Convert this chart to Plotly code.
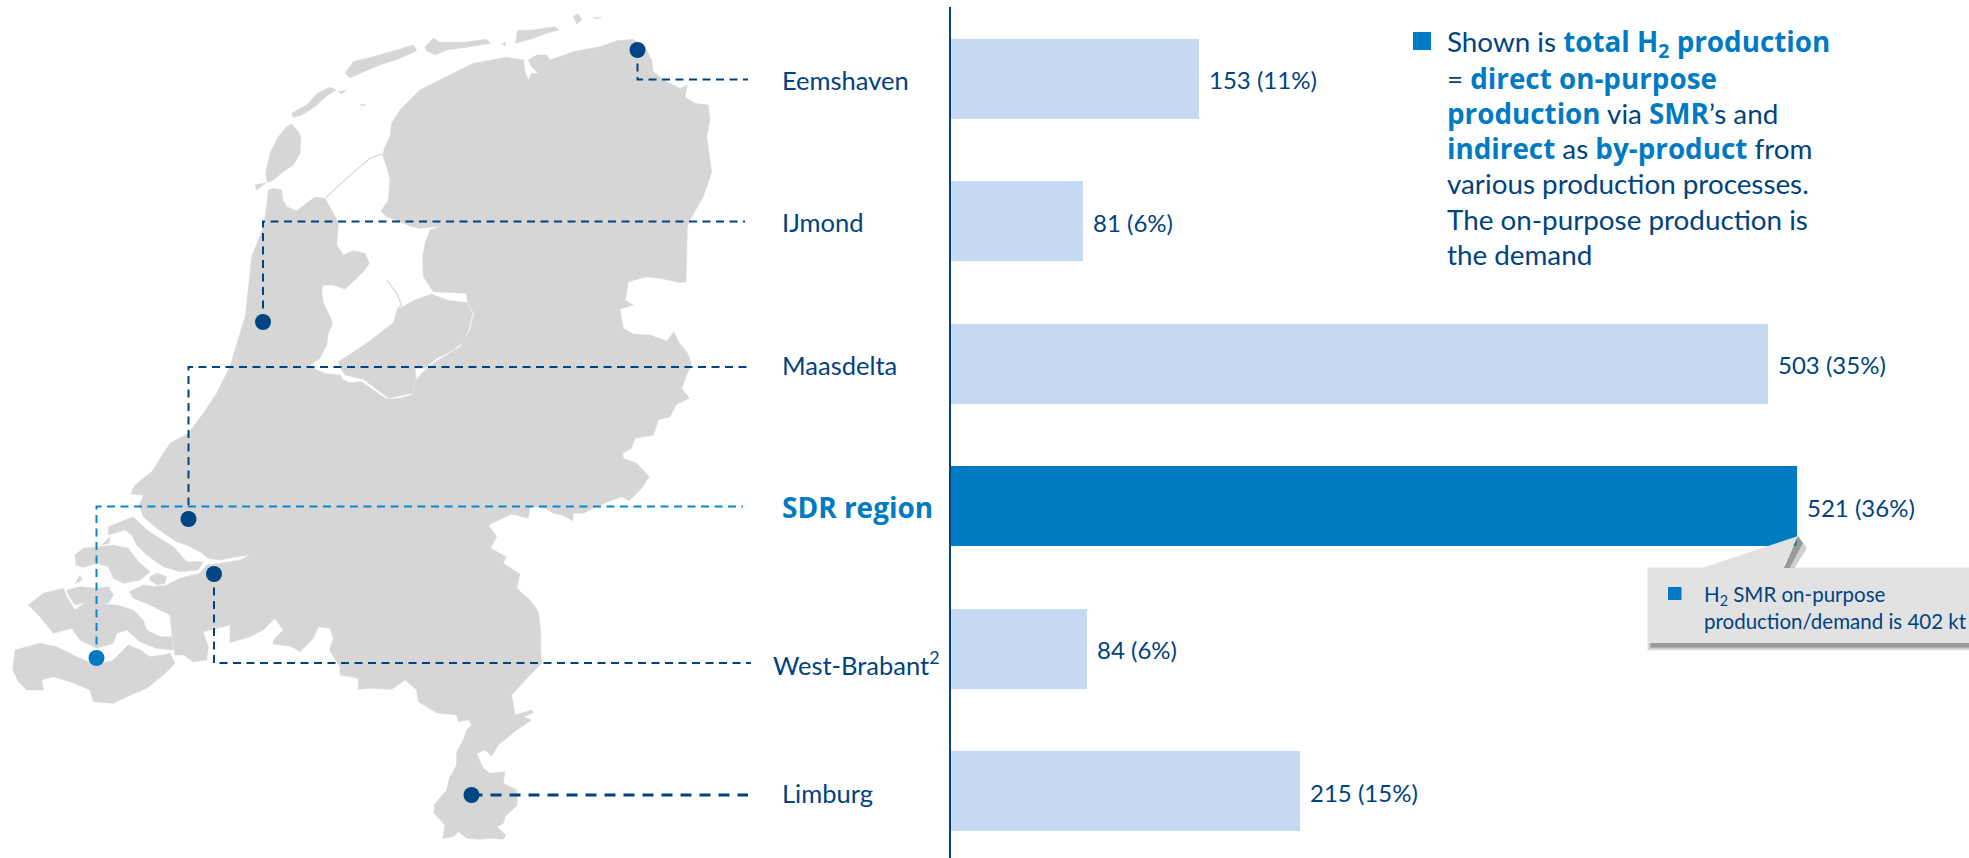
import plotly.graph_objects as go

# ---------- data ----------
regions = ["Eemshaven", "IJmond", "Maasdelta", "SDR region", "West-Brabant", "Limburg"]
production_kt = [153, 81, 503, 521, 84, 215]
share_pct = [11, 6, 35, 36, 6, 15]

NAVY = "#00437F"
BLUE = "#007BC3"
LINEBLUE = "#0A86D1"
LIGHT = "#C5DAF0"
GREY = "#D6D6D6"
FONT = "Lato"
BOLD_STYLE = "color:%s;font-family:Open Sans" % BLUE

# crops the coastline was traced in (origin of a 3x view)
A, B, C, D, E, F = (230, 10), (400, 10), (180, 280), (420, 280), (0, 480), (290, 560)


def T(o, pts):
    return [(o[0] + x / 3, o[1] + y / 3) for x, y in pts]


mainland = (
    T(A, [(115, 540), (130, 535), (155, 540), (158, 570), (170, 590), (200, 603), (235, 575), (255, 562), (285, 565),
          (305, 600), (325, 640), (320, 705), (340, 735), (370, 722), (405, 730), (418, 760), (400, 785), (370, 815),
          (345, 838), (310, 825), (280, 825)])
    + T(C, [(425, 30), (430, 70), (450, 110), (458, 130), (445, 160), (440, 195), (420, 235), (390, 255), (410, 270),
            (440, 282), (480, 285), (490, 300), (510, 308), (545, 305), (580, 330), (620, 358), (660, 355), (695, 345),
            (708, 300), (730, 275), (760, 250), (800, 225), (840, 200), (870, 150), (882, 100), (862, 68), (860, 38)])
    + T(A, [(710, 850), (610, 845), (580, 800), (578, 740), (585, 700), (600, 660), (640, 648), (570, 655), (545, 650),
            (510, 635), (470, 620), (453, 603), (475, 570), (480, 510), (470, 470), (458, 435), (465, 410), (480, 380),
            (485, 340), (510, 300), (570, 240), (640, 205), (730, 160), (830, 142), (880, 150)])
    + T(B, [(370, 145), (375, 185), (385, 210), (395, 190), (415, 190), (395, 170), (385, 150), (410, 135), (440, 135),
            (450, 150), (520, 125), (600, 110), (650, 92), (700, 88), (735, 110), (755, 150), (760, 185), (800, 215),
            (840, 235), (862, 225), (855, 262), (885, 280), (925, 285), (930, 330), (920, 380), (928, 440), (935, 485),
            (910, 560), (870, 630), (862, 650), (858, 815), (840, 818), (780, 805), (740, 800), (685, 815), (678, 860)])
    + T(D, [(615, 60), (640, 75), (600, 88), (610, 145), (640, 162), (690, 165), (740, 183), (762, 155), (775, 185),
            (800, 215), (815, 250), (800, 285), (785, 325), (808, 355), (770, 372), (750, 410), (715, 420), (700, 465),
            (645, 475), (635, 505), (608, 520), (610, 535), (650, 550), (688, 590), (665, 625), (628, 662), (605, 650),
            (540, 675), (490, 700), (460, 700), (458, 722), (425, 705), (400, 700), (375, 685), (330, 678), (325, 715),
            (275, 702), (205, 735), (230, 770), (212, 805), (258, 830)])
    + T(F, [(640, 10), (690, 42), (680, 85), (720, 120), (745, 155), (752, 210), (752, 265), (755, 310), (720, 345),
            (665, 405), (675, 465), (725, 450), (730, 458), (700, 470), (725, 480), (680, 510), (625, 555), (605, 588),
            (585, 570), (560, 580), (580, 625), (600, 640), (645, 635), (640, 670), (680, 690), (682, 735), (645, 770),
            (640, 790), (620, 800), (648, 825), (640, 838), (600, 835), (570, 838), (530, 835), (505, 815), (490, 830),
            (458, 835), (465, 795), (432, 760), (432, 735), (470, 690), (478, 655), (500, 615), (500, 575), (520, 540),
            (530, 510), (545, 495), (535, 480), (505, 485), (500, 465), (440, 458), (385, 425), (380, 390), (345, 360),
            (305, 388), (240, 385), (205, 388), (205, 355), (150, 345), (150, 320), (118, 270), (130, 235), (120, 205),
            (85, 200), (70, 235), (30, 275), (0, 258)])
    + T(E, [(820, 492), (820, 480), (850, 450), (825, 415), (790, 450), (750, 470), (690, 488), (690, 435), (610, 455),
            (625, 500), (620, 540), (580, 545), (550, 525), (525, 525), (515, 460), (510, 405), (450, 375), (400, 355),
            (388, 335), (430, 315), (465, 320), (500, 315), (540, 295), (600, 280), (620, 255), (660, 250), (720, 240),
            (750, 225), (700, 232), (660, 240), (625, 235), (600, 215), (560, 195), (530, 185), (470, 145), (430, 110),
            (418, 75), (430, 45), (392, 42), (405, 15), (455, -25), (510, -110)])
    + T(C, [(25, 460), (70, 400), (110, 340), (150, 260), (170, 190), (195, 110), (210, 0)])
    + T(A, [(52, 870), (65, 740), (100, 650), (110, 590)])
)

islands = [
    T(C, [(475, 245), (560, 190), (640, 128), (652, 90), (700, 62), (755, 42), (800, 60), (860, 68), (878, 100),
          (865, 150), (850, 185), (820, 210), (770, 235), (735, 265), (705, 265), (708, 295), (695, 340), (660, 348),
          (625, 355), (600, 335), (550, 298), (495, 285), (480, 262)]),
    T(A, [(185, 342), (205, 365), (213, 385), (210, 430), (190, 465), (160, 485), (130, 510), (112, 518), (107, 490),
          (120, 430), (145, 380), (170, 350)]),
    T(A, [(75, 525), (108, 518), (80, 540)]),
    T(A, [(185, 310), (230, 285), (262, 250), (300, 232), (318, 240), (290, 258), (255, 290), (215, 315), (190, 322)]),
    T(A, [(325, 245), (350, 240), (335, 252)]),
    T(A, [(390, 283), (408, 285), (398, 288)]),
    T(A, [(345, 190), (370, 155), (430, 140), (480, 125), (550, 105), (560, 122), (510, 145), (450, 165), (400, 185),
          (360, 203)]),
    T(A, [(585, 110), (610, 85), (630, 97), (700, 97), (770, 88), (782, 100), (720, 110), (650, 120), (615, 135),
          (590, 122)]),
    T(A, [(815, 102), (825, 97), (827, 108)]),
    T(B, [(347, 100), (352, 62), (400, 60), (465, 50), (477, 60), (440, 70), (400, 85), (360, 95)]),
    T(B, [(520, 18), (535, 12), (545, 30), (530, 42)]),
    T(B, [(578, 22), (605, 22), (590, 26)]),
    T(E, [(325, 140), (400, 110), (440, 150), (520, 200), (560, 245), (610, 245), (595, 270), (540, 275), (490, 260),
          (440, 225), (410, 195), (395, 165), (375, 150), (345, 160), (325, 165)]),
    T(E, [(225, 225), (250, 205), (300, 200), (340, 195), (385, 205), (415, 245), (450, 275), (420, 300), (370, 310),
          (340, 295), (325, 260), (290, 250), (250, 262), (228, 255)]),
    T(E, [(450, 290), (470, 280), (500, 290), (495, 310), (470, 315), (450, 300)]),
    T(E, [(200, 330), (240, 320), (290, 325), (325, 320), (340, 345), (325, 370), (290, 372), (245, 370), (225, 375),
          (205, 345)]),
    T(E, [(85, 375), (130, 340), (190, 325), (200, 350), (225, 390), (250, 372), (300, 372), (350, 375), (400, 390),
          (430, 420), (440, 450), (480, 470), (515, 470), (520, 510), (470, 505), (420, 485), (380, 450), (350, 460),
          (340, 490), (290, 505), (240, 480), (215, 445), (160, 460), (120, 410)]),
    T(E, [(45, 510), (120, 490), (170, 500), (230, 530), (290, 555), (340, 540), (370, 510), (385, 495), (420, 510),
          (450, 530), (490, 525), (510, 520), (525, 550), (490, 585), (440, 625), (380, 650), (340, 670), (280, 665),
          (270, 630), (210, 605), (160, 590), (125, 600), (130, 630), (80, 630), (55, 605), (38, 570)]),
    T(E, [(225, 312), (240, 285), (246, 300)]),
    T(E, [(305, 195), (330, 170), (328, 190)]),
]

dikes = [
    T(A, [(288, 562), (350, 505), (420, 445), (455, 432)]),
    T(C, [(620, 0), (650, 40), (665, 75), (650, 90)]),
]

# leader lines: site marker -> label (page pixels)
leaders = {
    "Eemshaven": ([637.5, 637.5, 748], [50, 79.5, 79.5], NAVY, 2, "8px,5.5px"),
    "IJmond": ([263, 263, 745], [322, 221.5, 221.5], NAVY, 2, "8px,5.5px"),
    "Maasdelta": ([188.5, 188.5, 748], [519, 367, 367], NAVY, 2, "8px,5.5px"),
    "SDR region": ([96.5, 96.5, 743], [658, 506.5, 506.5], LINEBLUE, 2, "8px,5.5px"),
    "West-Brabant": ([214, 214, 751], [574, 663, 663], NAVY, 2, "8px,5.5px"),
    "Limburg": ([471.5, 748], [795, 795], NAVY, 3, "11px,8px"),
}
label_x = [780, 780, 780, 780, 771, 780]
label_y = [80, 222, 365, 507, 663, 793]


def hl(s):
    return '<b><span style="%s">%s</span></b>' % (BOLD_STYLE, s)


note_lines = [
    "Shown is " + hl("total H<sub>2</sub> production"),
    "= " + hl("direct on-purpose"),
    hl("production") + " via " + hl("SMR") + "’s and",
    hl("indirect") + " as " + hl("by-product") + " from",
    "various production processes.",
    "The on-purpose production is",
    "the demand",
]
note_y = [43, 78, 113, 148, 183, 219, 254]
callout_lines = ["H<sub>2</sub> SMR on-purpose", "production/demand is 402 kt"]
callout_y = [595, 620.5]

# ---------- figure ----------
W, H = 1969, 858
BASE_X = 951
PX_PER_KT = 1.624
fig = go.Figure()

fig.add_trace(go.Bar(
    y=list(range(len(regions))), x=production_kt, orientation="h", width=0.5614,
    marker=dict(color=[BLUE if r == "SDR region" else LIGHT for r in regions], line_width=0),
    hoverinfo="skip", showlegend=False, xaxis="x", yaxis="y",
))

# map
for poly in [mainland] + islands:
    xs, ys = zip(*poly)
    fig.add_trace(go.Scatter(
        x=list(xs) + [xs[0]], y=list(ys) + [ys[0]], mode="lines", fill="toself", fillcolor=GREY,
        line=dict(color=GREY, width=0.5), hoverinfo="skip", showlegend=False, xaxis="x2", yaxis="y2",
    ))
for d in dikes:
    xs, ys = zip(*d)
    fig.add_trace(go.Scatter(x=xs, y=ys, mode="lines", line=dict(color=GREY, width=1.2), hoverinfo="skip",
                             showlegend=False, xaxis="x2", yaxis="y2"))

# leaders + markers
for name, (xs, ys, col, w, dash) in leaders.items():
    fig.add_trace(go.Scatter(x=xs, y=ys, mode="lines", line=dict(color=col, width=w, dash=dash), hoverinfo="skip",
                             showlegend=False, xaxis="x2", yaxis="y2"))
for name, (xs, ys, col, w, dash) in leaders.items():
    fig.add_trace(go.Scatter(x=[xs[0]], y=[ys[0]], mode="markers",
                             marker=dict(size=16, color=BLUE if name == "SDR region" else "#004685", line_width=0),
                             hoverinfo="skip", showlegend=False, xaxis="x2", yaxis="y2"))

shapes = []
# callout shadow
for i, op in enumerate([0.08, 0.12, 0.16, 0.20, 0.24]):
    k = 5 - i
    shapes.append(dict(type="rect", xref="x2", yref="y2", x0=1648 + 4 - k, x1=1975, y0=572 - k, y1=646 + k,
                       fillcolor="#555555", opacity=op, line_width=0))
shapes.append(dict(type="path", xref="x2", yref="y2", path="M1783,570 L1798,536 L1807,548 L1792,572 Z",
                   fillcolor="#777777", opacity=0.35, line_width=0))
shapes.append(dict(type="path", xref="x2", yref="y2", path="M1783,570 L1798,536 L1803,543 L1788,571 Z",
                   fillcolor="#777777", opacity=0.6, line_width=0))
shapes.append(dict(type="path", xref="x2", yref="y2",
                   path="M1648,568 L1702,568 L1798,536 L1783,568 L1975,568 L1975,643 L1648,643 Z",
                   fillcolor="#E3E2E3", line_width=0))
# bullets
shapes.append(dict(type="rect", xref="x2", yref="y2", x0=1413, x1=1431, y0=32, y1=50, fillcolor=BLUE, line_width=0))
shapes.append(dict(type="rect", xref="x2", yref="y2", x0=1668, x1=1681.5, y0=587, y1=600, fillcolor=BLUE, line_width=0))

ann = []
for i, r in enumerate(regions):
    sdr = r == "SDR region"
    txt = '<b><span style="font-family:Open Sans">%s</span></b>' % r if sdr else r
    if r == "West-Brabant":
        txt += "<sup>2</sup>"
    ann.append(dict(xref="x2", yref="y2", x=label_x[i], y=label_y[i], text=txt, showarrow=False, xanchor="left",
                    yanchor="middle", font=dict(family=FONT, size=28 if sdr else 25.5, color=BLUE if sdr else NAVY)))
    ann.append(dict(xref="x", yref="y", x=production_kt[i], y=i, text="%d (%d%%)" % (production_kt[i], share_pct[i]),
                    showarrow=False, xanchor="left", yanchor="middle", xshift=8, yshift=-1,
                    font=dict(family=FONT, size=24, color=NAVY)))
for t, y in zip(note_lines, note_y):
    ann.append(dict(xref="x2", yref="y2", x=1445, y=y, text=t, showarrow=False, xanchor="left", yanchor="middle",
                    font=dict(family=FONT, size=27.8, color=NAVY)))
for t, y in zip(callout_lines, callout_y):
    ann.append(dict(xref="x2", yref="y2", x=1702, y=y, text=t, showarrow=False, xanchor="left", yanchor="middle",
                    font=dict(family=FONT, size=20.5, color=NAVY)))

AX_TOP = 7
CAT_STEP = 142.5
CAT0 = 78.5
fig.update_layout(
    width=W, height=H, margin=dict(l=0, r=0, t=0, b=0), paper_bgcolor="white", plot_bgcolor="rgba(0,0,0,0)",
    bargap=0, showlegend=False, shapes=shapes, annotations=ann, hovermode=False,
    xaxis=dict(domain=[BASE_X / W, 1], range=[0, (W - BASE_X) / PX_PER_KT], visible=False, fixedrange=True),
    yaxis=dict(domain=[0, (H - AX_TOP) / H], range=[(H - CAT0) / CAT_STEP, (AX_TOP - CAT0) / CAT_STEP],
               showline=True, linecolor=NAVY, linewidth=2, showticklabels=False, ticks="", showgrid=False,
               zeroline=False, fixedrange=True, anchor="x"),
    xaxis2=dict(domain=[0, 1], range=[0, W], visible=False, fixedrange=True, anchor="y2"),
    yaxis2=dict(domain=[0, 1], range=[H, 0], visible=False, fixedrange=True, anchor="x2"),
)

fig.write_html("out.html", config={"displayModeBar": False},
               post_script="document.body.style.margin='0';document.body.style.overflow='hidden';")
